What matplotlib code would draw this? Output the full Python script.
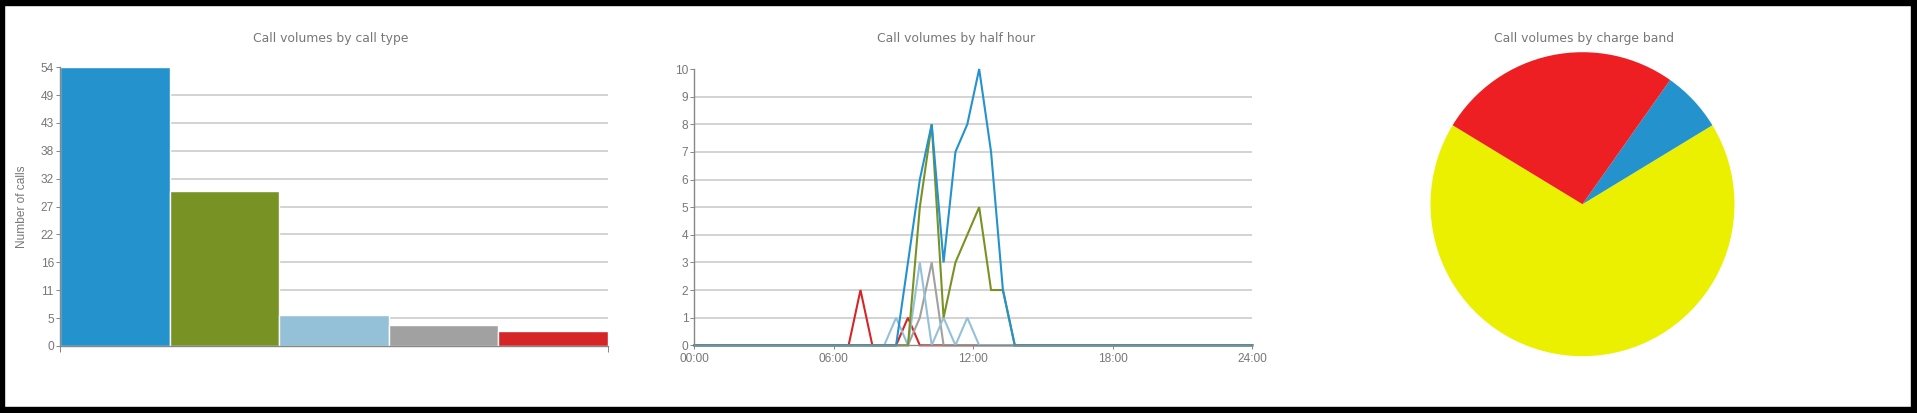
import matplotlib.pyplot as plt
import numpy as np
from matplotlib.patches import Rectangle

# call volumes by call type (bar chart)
call_type_counts = [54, 30, 6, 4, 3]
call_type_colors = ["#2492cc", "#789224", "#95c1d8", "#a1a1a1", "#d52527"]

# call volumes per half hour slot, 48 slots from 00:00
half_hour_type1 = [0, 0, 0, 0, 0, 0, 0, 0, 0, 0,
                   0, 0, 0, 0, 0, 0, 0, 0, 3, 6,
                   8, 3, 7, 8, 10, 7, 2, 0, 0, 0,
                   0, 0, 0, 0, 0, 0, 0, 0, 0, 0,
                   0, 0, 0, 0, 0, 0, 0, 0]
half_hour_type2 = [0, 0, 0, 0, 0, 0, 0, 0, 0, 0,
                   0, 0, 0, 0, 0, 0, 0, 0, 0, 5,
                   8, 1, 3, 4, 5, 2, 2, 0, 0, 0,
                   0, 0, 0, 0, 0, 0, 0, 0, 0, 0,
                   0, 0, 0, 0, 0, 0, 0, 0]
half_hour_type3 = [0, 0, 0, 0, 0, 0, 0, 0, 0, 0,
                   0, 0, 0, 0, 0, 0, 0, 1, 0, 3,
                   0, 1, 0, 1, 0, 0, 0, 0, 0, 0,
                   0, 0, 0, 0, 0, 0, 0, 0, 0, 0,
                   0, 0, 0, 0, 0, 0, 0, 0]
half_hour_type4 = [0, 0, 0, 0, 0, 0, 0, 0, 0, 0,
                   0, 0, 0, 0, 0, 0, 0, 0, 0, 1,
                   3, 0, 0, 0, 0, 0, 0, 0, 0, 0,
                   0, 0, 0, 0, 0, 0, 0, 0, 0, 0,
                   0, 0, 0, 0, 0, 0, 0, 0]
half_hour_type5 = [0, 0, 0, 0, 0, 0, 0, 0, 0, 0,
                   0, 0, 0, 0, 2, 0, 0, 0, 1, 0,
                   0, 0, 0, 0, 0, 0, 0, 0, 0, 0,
                   0, 0, 0, 0, 0, 0, 0, 0, 0, 0,
                   0, 0, 0, 0, 0, 0, 0, 0]
time_labels = ["00:00", "06:00", "12:00", "18:00", "24:00"]

# call volumes by charge band (pie)
charge_band_values = [31, 3, 12]
charge_band_colors = ["#ebef00", "#2492cc", "#ee1f22"]

W, H = 1917, 413
TXT = "#777777"
AXC = "#888888"
GRID = "#cccccc"
PX = 0.72  # points per pixel at dpi 100

fig = plt.figure(figsize=(W / 100, H / 100), dpi=100)


def px_box(left, top, right, bottom):
    return [left / W, 1 - bottom / H, (right - left) / W, (bottom - top) / H]


def style_axis(ax):
    for s in ("top", "right"):
        ax.spines[s].set_visible(False)
    for s in ("left", "bottom"):
        ax.spines[s].set_color(AXC)
        ax.spines[s].set_linewidth(1.0)
        ax.spines[s].set_zorder(10)
    ax.tick_params(colors=AXC, labelcolor=TXT, labelsize=8.6,
                   length=4 * PX, width=1 * PX, pad=1.5)
    for lab in ax.get_xticklabels() + ax.get_yticklabels():
        lab.set_fontfamily("Liberation Sans")


# --- bar chart ---
ax1 = fig.add_axes(px_box(60, 67.2, 607.6, 346))
x = np.arange(len(call_type_counts))
ax1.bar(x, call_type_counts, width=1.0, color=call_type_colors,
        edgecolor="white", linewidth=1.0, zorder=3)
ax1.set_xlim(-0.5, len(call_type_counts) - 0.5)
top = max(call_type_counts)
ax1.set_ylim(0, top)
yt = np.linspace(0, top, 11)
ax1.set_yticks(yt)
ax1.set_yticklabels([f"{round(v)}" for v in yt])
for v in yt[1:-1]:
    ax1.axhline(v, color=GRID, linewidth=1.2, zorder=1)
ax1.set_xticks([-0.5, len(call_type_counts) - 0.5])
ax1.set_xticklabels(["", ""])
style_axis(ax1)
ax1.tick_params(axis="x", length=6 * PX)
fig.text(22 / W, 1 - 207 / H, "Number of calls", rotation=90, ha="center",
         va="center", color=TXT, fontsize=8.6, family="Liberation Sans")

# --- line chart ---
ax2 = fig.add_axes(px_box(694.3, 69, 1252.2, 345.3))
slots = np.arange(len(half_hour_type1))
series = [(half_hour_type5, "#d52527"), (half_hour_type4, "#a1a1a1"),
          (half_hour_type3, "#95c1d8"), (half_hour_type2, "#789224"),
          (half_hour_type1, "#2492cc")]
for i, (vals, col) in enumerate(series):
    ax2.plot(slots, vals, color=col, linewidth=1.5, zorder=4 + i,
             solid_joinstyle="miter", clip_on=False)
ax2.set_xlim(0, len(slots) - 1)
ax2.set_ylim(0, 10)
ax2.set_yticks(range(0, 11))
for v in range(1, 10):
    ax2.axhline(v, color=GRID, linewidth=1.2, zorder=1)
ax2.set_xticks(np.linspace(0, len(slots) - 1, len(time_labels)))
ax2.set_xticklabels(time_labels)
style_axis(ax2)
ax2.tick_params(axis="x", pad=2.5)

# --- pie chart ---
ax3 = fig.add_axes(px_box(1430.5, 52.2, 1734.5, 356.2))
total = sum(charge_band_values)
ax3.pie(charge_band_values, colors=charge_band_colors,
        startangle=270 - 180 * charge_band_values[0] / total,
        counterclock=True, wedgeprops=dict(linewidth=0))
ax3.set_xlim(-1, 1)
ax3.set_ylim(-1, 1)

# titles
for cx, title in [(331, "Call volumes by call type"),
                  (956, "Call volumes by half hour"),
                  (1584, "Call volumes by charge band")]:
    fig.text(cx / W, 1 - 38.5 / H, title, ha="center", va="center",
             color=TXT, fontsize=8.95, family="DejaVu Sans")

# black frame round the picture
for (l, t, r, b) in [(0, 0, W, 5), (0, H - 6, W, H), (0, 0, 4, H), (W - 6, 0, W, H)]:
    fig.add_artist(Rectangle((l / W, 1 - b / H), (r - l) / W, (b - t) / H,
                             transform=fig.transFigure, color="black", zorder=20))

fig.savefig("out.png", dpi=100)
